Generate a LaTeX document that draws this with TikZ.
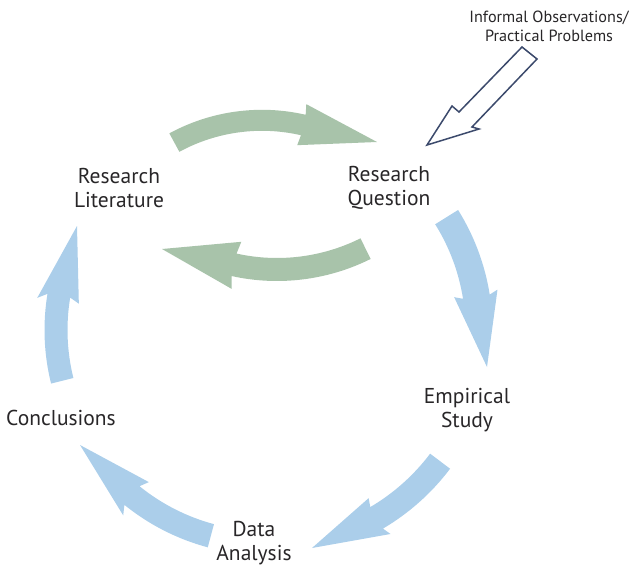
\documentclass[tikz,border=0pt]{standalone}
\usepackage{fontspec}
\setmainfont{PT Sans}
\usetikzlibrary{calc}
\definecolor{arrowblue}{RGB}{171,206,234}
\definecolor{arrowgreen}{RGB}{168,195,170}
\definecolor{outline}{RGB}{60,74,108}
\definecolor{txt}{RGB}{40,38,40}
\tikzset{
  bluearrow/.style={fill=arrowblue, draw=none},
  greenarrow/.style={fill=arrowgreen, draw=none},
  hollowarrow/.style={draw=outline, line width=1.5pt, fill=white, line join=miter},
  lbl/.style={text=txt, align=center, inner sep=0pt, font=\fontsize{21.5}{24}\selectfont},
  smalllbl/.style={text=txt, align=center, inner sep=0pt, font=\fontsize{16.2}{19}\selectfont}
}
% #1 style, #2 centre, #3 radius, #4 tail angle, #5 head-base angle,
% #6 barb angle, #7 tip, #8 half body width, #9 half head width
\newcommand\arcarrow[9]{%
  \fill[#1] ($(#2)+(#4:{#3+#8})$) arc[start angle=#4, end angle=#5, radius={#3+#8}]
    -- ($(#2)+(#6:{#3+#9})$) -- (#7) -- ($(#2)+(#6:{#3-#9})$)
    -- ($(#2)+(#5:{#3-#8})$) arc[start angle=#5, end angle=#4, radius={#3-#8}] -- cycle;}
\begin{document}
\begin{tikzpicture}[x=1pt,y=-1pt]
\useasboundingbox (0,0) rectangle (641,582);
% green arrows
\arcarrow{greenarrow}{262,304}{183.7}{-118.5}{-77}{-77.5}{377,142}{10.5}{21}
\arcarrow{greenarrow}{277,71}{198.5}{63.5}{102.5}{101.8}{162,249}{11.5}{24}
% blue arrows
\arcarrow{bluearrow}{266,330}{213}{-32}{-9}{-9.9}{487,367}{13.5}{22}
\arcarrow{bluearrow}{266,330}{218}{37}{59.5}{58.6}{312,548}{12.5}{21}
\arcarrow{bluearrow}{266,330}{213}{105}{129}{127.6}{80,445}{12}{21}
\arcarrow{bluearrow}{266,330}{210}{166}{189.4}{188}{77,226}{11.5}{21}
% hollow arrow
\draw[hollowarrow] (427,145) -- (452,106) -- (459,112) -- (522,47) -- (537,59) -- (472,127) -- (479,129) -- cycle;
% labels
\node[lbl] (lit) at (119,188) {Research\\Literature};
\node[lbl] (rq) at (389,188) {Research\\Question};
\node[lbl] (es) at (467,410) {Empirical\\Study};
\node[lbl] (da) at (254,543) {Data\\Analysis};
\node[lbl] (conc) at (61,418) {Conclusions};
\node[smalllbl] (info) at (549,26) {Informal Observations/\\Practical Problems};
\end{tikzpicture}
\end{document}
